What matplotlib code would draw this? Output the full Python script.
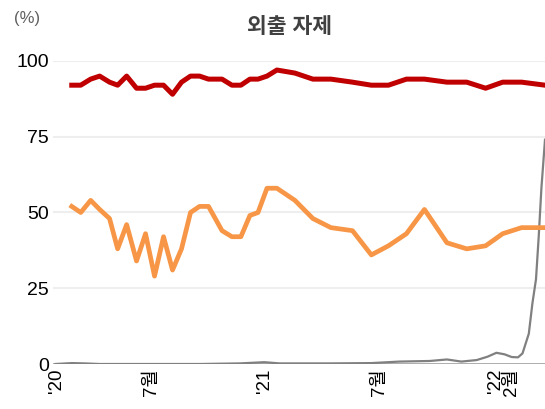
import matplotlib.pyplot as plt

plt.rcParams['font.family'] = ['Liberation Sans', 'Noto Sans CJK KR']

# survey rounds (week index since first round)
weeks = [0, 1, 2.1, 3.1, 4.2, 5.1, 6.1, 7.2, 8.2, 9.2, 10.2, 11.2, 12.2, 13.2, 14.2,
         15.2, 16.7, 17.8, 18.8, 19.8, 20.7, 21.7, 22.8, 24.8, 26.8, 28.8, 31.2,
         33.3, 35.2, 37.2, 39.2, 41.7, 43.9, 46.0, 47.9, 50.0, 52.6]
stay_home = [92, 92, 94, 95, 93, 92, 95, 91, 91, 92, 92, 89, 93, 95, 95,
             94, 94, 92, 92, 94, 94, 95, 97, 96, 94, 94, 93,
             92, 92, 94, 94, 93, 93, 91, 93, 93, 92]
second_series = [52, 50, 54, 51, 48, 38, 46, 34, 43, 29, 42, 31, 38, 50, 52,
                 52, 44, 42, 42, 49, 50, 58, 58, 54, 48, 45, 44,
                 36, 39, 43, 51, 40, 38, 39, 43, 45, 45]

# third series (finer resolution)
weeks_3 = [-1.8, 0, 1.4, 3.1, 8.7, 14.2, 18.7, 21.4, 23.1, 28.7, 33.3, 36.4, 39.8,
           41.7, 43.3, 45.0, 46.2, 47.2, 48.1, 48.9, 49.6, 50.1, 50.8, 51.2,
           51.6, 51.9, 52.2, 52.6]
third_series = [0, 0.3, 0.2, 0, 0, 0, 0.2, 0.6, 0.2, 0.2, 0.3, 0.8, 1.0,
                1.5, 0.8, 1.3, 2.4, 3.7, 3.2, 2.3, 2.2, 3.5, 10, 20,
                28, 42, 58, 74]

tick_pos = [-1.7, 8.9, 21.4, 34.2, 47.1, 48.9]
tick_labels = ["'20", "7월", "'21", "7월", "'22", "2월"]

fig = plt.figure(figsize=(5.45, 4.09), dpi=100)
ax = fig.add_axes([0.097, 0.110, 0.903, 0.741])

for v in [25, 50, 75, 100]:
    ax.axhline(v, color='#eeeeee', lw=1.5, zorder=0)
ax.axhline(0, color='#a0a0a0', lw=1.2, zorder=1)

ax.plot(weeks_3, third_series, color='#808080', lw=1.6, zorder=2)
ax.plot(weeks, second_series, color='#f79646', lw=3.4, zorder=3)
ax.plot(weeks, stay_home, color='#c00000', lw=3.6, zorder=4)

ax.set_xlim(-2.1, 52.6)
ax.set_ylim(0, 100)
ax.set_yticks([0, 25, 50, 75, 100])
ax.set_yticklabels(['0', '25', '50', '75', '100'], fontsize=14)
ax.set_xticks(tick_pos)
ax.set_xticklabels(tick_labels, rotation=90, fontsize=13.5)
ax.tick_params(length=0)
ax.tick_params(axis='y', pad=3)
ax.tick_params(axis='x', pad=3)
for s in ax.spines.values():
    s.set_visible(False)

fig.text(0.532, 0.932, '외출 자제', ha='center', va='center', fontsize=15.5,
         fontweight='bold', color='#404040')
fig.text(0.05, 0.955, '(%)', ha='center', va='center', fontsize=12, color='#606060')

fig.savefig('out.png', dpi=100)
